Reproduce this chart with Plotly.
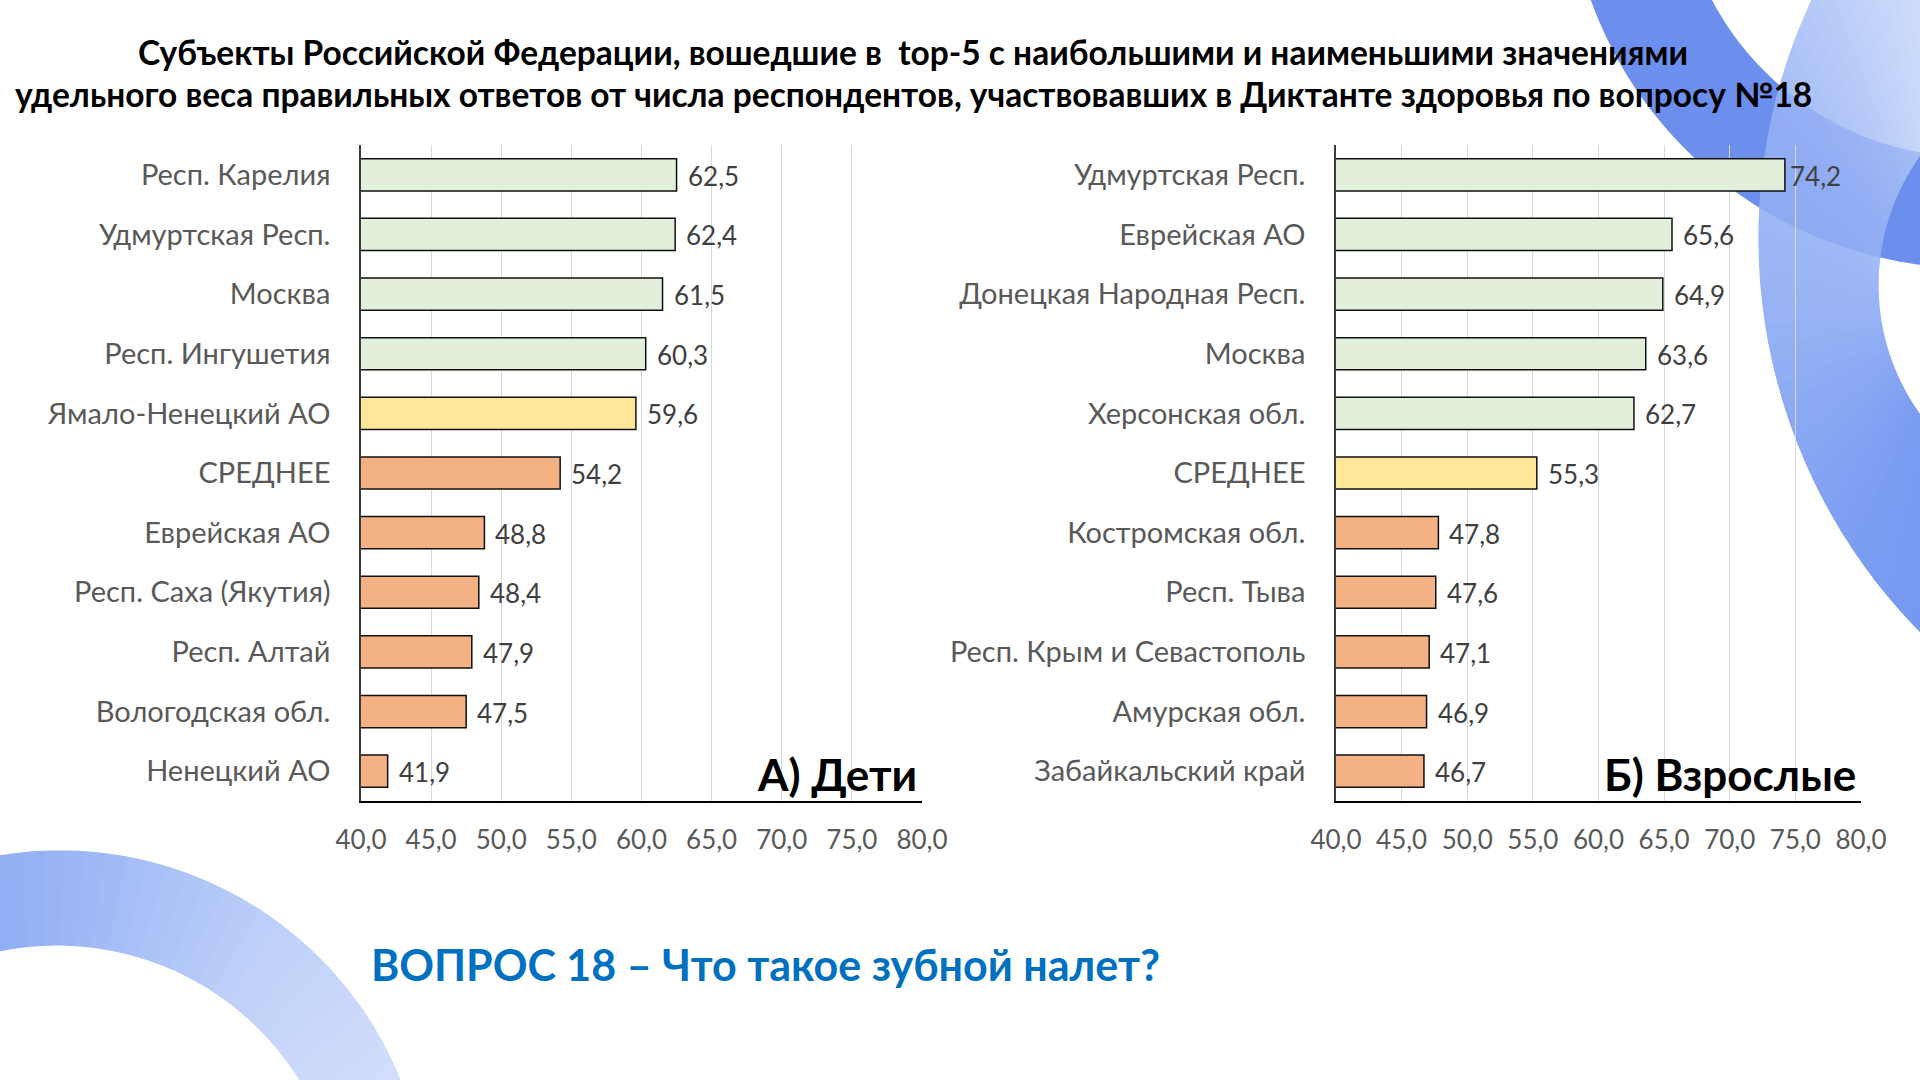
import numpy as np
import plotly.graph_objects as go

# ---------------- data ----------------
kids_regions = ["Респ. Карелия", "Удмуртская Респ.", "Москва", "Респ. Ингушетия",
                "Ямало-Ненецкий АО", "СРЕДНЕЕ", "Еврейская АО", "Респ. Саха (Якутия)",
                "Респ. Алтай", "Вологодская обл.", "Ненецкий АО"]
kids_values = [62.5, 62.4, 61.5, 60.3, 59.6, 54.2, 48.8, 48.4, 47.9, 47.5, 41.9]
kids_groups = ["top", "top", "top", "top", "mid", "low", "low", "low", "low", "low", "low"]

adult_regions = ["Удмуртская Респ.", "Еврейская АО", "Донецкая Народная Респ.", "Москва",
                 "Херсонская обл.", "СРЕДНЕЕ", "Костромская обл.", "Респ. Тыва",
                 "Респ. Крым и Севастополь", "Амурская обл.", "Забайкальский край"]
adult_values = [74.2, 65.6, 64.9, 63.6, 62.7, 55.3, 47.8, 47.6, 47.1, 46.9, 46.7]
adult_groups = ["top", "top", "top", "top", "top", "mid", "low", "low", "low", "low", "low"]

x_range = [40, 80]
x_step = 5

title_line1 = "Субъекты Российской Федерации, вошедшие в  top-5 с наибольшими и наименьшими значениями"
title_line2 = "удельного веса правильных ответов от числа респондентов, участвовавших в Диктанте здоровья по вопросу №18"
panel_kids = "А) Дети"
panel_adults = "Б) Взрослые"
question = "ВОПРОС 18 – Что такое зубной налет?"

# ---------------- style ----------------
W, H = 1920, 1080
FONT = "Lato, 'Open Sans', 'Noto Sans', sans-serif"
group_colors = {"top": "#E2EFDA", "mid": "#FFE699", "low": "#F4B183"}
label_gray = "#595959"
value_gray = "#404040"


def px(x):
    return x / W


def py(y):
    return 1 - y / H


fig = go.Figure()

# ---------------- decorative background ----------------
shapes = []


def lerp_color(c1, c2, t):
    a = np.array(c1, float)
    b = np.array(c2, float)
    c = a + (b - a) * t
    return "rgb(%d,%d,%d)" % tuple(np.round(c).astype(int))


def arc_pts(oc, R, ic, r, a, b, m):
    sub = np.linspace(a, b, m)
    outer = [(oc[0] + R * np.cos(s), oc[1] + R * np.sin(s)) for s in sub]
    inner = [(ic[0] + r * np.cos(s), ic[1] + r * np.sin(s)) for s in sub[::-1]]
    return outer + inner


def to_path(pts):
    return "M " + " L ".join("%.5f,%.5f" % (px(x), py(y)) for x, y in pts) + " Z"


def ring_segments(oc, R, ic, r, th0, th1, stops, n=48):
    ths = np.radians(np.linspace(th0, th1, n + 1))
    for i in range(n):
        t = (i + 0.5) / n
        k = min(int(t * (len(stops) - 1)), len(stops) - 2)
        tt = t * (len(stops) - 1) - k
        col = lerp_color(stops[k], stops[k + 1], tt)
        pts = arc_pts(oc, R, ic, r, ths[i], ths[i + 1], 4)
        shapes.append(dict(type="path", xref="paper", yref="paper", path=to_path(pts),
                           fillcolor=col, line=dict(color=col, width=1.2), layer="below"))


def ring_solid(oc, R, ic, r, th0, th1, col, opacity):
    pts = arc_pts(oc, R, ic, r, np.radians(th0), np.radians(th1), 80)
    shapes.append(dict(type="path", xref="paper", yref="paper", path=to_path(pts),
                       fillcolor=col, line=dict(width=0), opacity=opacity, layer="below"))


BAND_C, BAND_R, BAND_r = (1972, -137), 405, 294
band_col = "rgb(108,143,238)"
# top-right crescent (darker)
ring_solid(BAND_C, BAND_R, BAND_C, BAND_r, 86, 166, band_col, 1.0)
# right ring (lighter, gradient)
ring_segments((2320, 238), 561, (2100, 285), 222, 122, 245,
              [(110, 146, 239), (124, 157, 241), (150, 178, 245), (168, 192, 247),
               (205, 219, 250), (222, 231, 252)], n=60)
# band shows faintly through the ring where they cross
ring_solid(BAND_C, BAND_R, BAND_C, BAND_r, 86, 166, band_col, 0.35)
# bottom-left arc
ring_segments((60, 1218), 367, (57, 1231), 286, 190, 345,
              [(120, 154, 242), (124, 158, 242), (150, 179, 245), (190, 208, 249), (214, 225, 251)])

# ---------------- bars ----------------
for vals, cats, groups, xa, ya in [
    (kids_values, kids_regions, kids_groups, "x", "y"),
    (adult_values, adult_regions, adult_groups, "x2", "y2"),
]:
    fig.add_trace(go.Bar(
        x=vals, y=cats, orientation="h", xaxis=xa, yaxis=ya,
        marker=dict(color=[group_colors[g] for g in groups],
                    line=dict(color="#111111", width=1.5)),
        width=0.54, showlegend=False, hoverinfo="x+y",
    ))

annotations = []
for vals, cats, xa, ya in [
    (kids_values, kids_regions, "x", "y"),
    (adult_values, adult_regions, "x2", "y2"),
]:
    for v, c in zip(vals, cats):
        annotations.append(dict(
            x=v, y=c, xref=xa, yref=ya, text=("%.1f" % v).replace(".", ","),
            showarrow=False, xanchor="left", yanchor="middle",
            xshift=3 if v > 72 else 9, yshift=-1,
            font=dict(family=FONT, size=26, color=value_gray)))

# titles & labels
annotations += [
    dict(x=px(913), y=py(52), xref="paper", yref="paper", text=title_line1, showarrow=False,
         xanchor="center", yanchor="middle", font=dict(family=FONT, size=33.5, color="#000000", weight="bold")),
    dict(x=px(913), y=py(94), xref="paper", yref="paper", text=title_line2, showarrow=False,
         xanchor="center", yanchor="middle", font=dict(family=FONT, size=33.5, color="#000000", weight="bold")),
    dict(x=px(919), y=py(774), xref="paper", yref="paper", text=panel_kids, showarrow=False,
         xanchor="right", yanchor="middle", font=dict(family=FONT, size=44, color="#000000", weight="bold")),
    dict(x=px(1858), y=py(774), xref="paper", yref="paper", text=panel_adults, showarrow=False,
         xanchor="right", yanchor="middle", font=dict(family=FONT, size=44, color="#000000", weight="bold")),
    dict(x=px(369), y=py(964), xref="paper", yref="paper", text=question, showarrow=False,
         xanchor="left", yanchor="middle", font=dict(family=FONT, size=43, color="#0070C0", weight="bold")),
]

xaxis_common = dict(range=x_range, tick0=x_range[0], dtick=x_step, tickformat=".1f",
                    showgrid=True, gridcolor="#D9D9D9", gridwidth=1, zeroline=False,
                    showline=True, linecolor="#000000", linewidth=2, ticks="",
                    ticklabelstandoff=15, automargin=False,
                    tickfont=dict(family=FONT, size=26, color=label_gray), fixedrange=True)
yaxis_common = dict(type="category", autorange="reversed", showgrid=False, zeroline=False,
                    showline=True, linecolor="#3A3A3A", linewidth=1.5, ticks="",
                    ticklabelstandoff=23, automargin=False,
                    tickfont=dict(family=FONT, size=29, color=label_gray), fixedrange=True)

fig.update_layout(
    width=W, height=H,
    margin=dict(l=0, r=0, t=0, b=0, pad=0),
    paper_bgcolor="#FFFFFF", plot_bgcolor="rgba(0,0,0,0)",
    separators=", ",
    xaxis=dict(domain=[px(361), px(922)], anchor="y", **xaxis_common),
    yaxis=dict(domain=[py(801), py(145)], anchor="x", **yaxis_common),
    xaxis2=dict(domain=[px(1336), px(1861)], anchor="y2", **xaxis_common),
    yaxis2=dict(domain=[py(801), py(145)], anchor="x2", **yaxis_common),
    shapes=shapes,
    annotations=annotations,
    font=dict(family=FONT),
)

fig.write_html("out.html", config={"displayModeBar": False},
               post_script="document.body.style.margin='0';document.body.style.overflow='hidden';")
